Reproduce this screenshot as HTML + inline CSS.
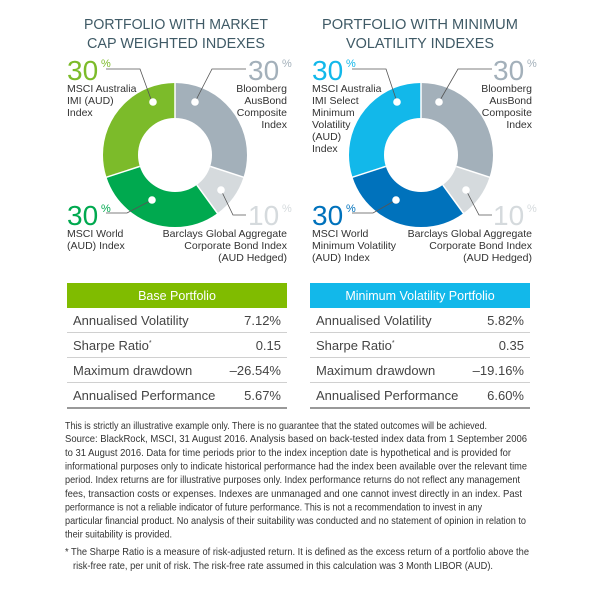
<!DOCTYPE html>
<html><head><meta charset="utf-8"><style>
html,body{margin:0;padding:0;background:#fff;}
body{width:600px;height:590px;position:relative;overflow:hidden;font-family:"Liberation Sans",sans-serif;}
svg{position:absolute;left:0;top:0;}
</style></head><body>
<svg width="600" height="590" viewBox="0 0 600 590" xmlns="http://www.w3.org/2000/svg" font-family="Liberation Sans, sans-serif">
<!-- titles -->
<g fill="#3f5a66" font-size="14.5" text-anchor="middle">
<text x="176" y="29" textLength="184" lengthAdjust="spacingAndGlyphs">PORTFOLIO WITH MARKET</text>
<text x="176" y="48" textLength="178" lengthAdjust="spacingAndGlyphs">CAP WEIGHTED INDEXES</text>
<text x="420" y="29" textLength="196" lengthAdjust="spacingAndGlyphs">PORTFOLIO WITH MINIMUM</text>
<text x="420" y="48" textLength="148" lengthAdjust="spacingAndGlyphs">VOLATILITY INDEXES</text>
</g>

<!-- left donut -->
<g transform="translate(175,155)">
<g transform="rotate(-90)" fill="none" stroke-width="35">
<circle r="54.5" stroke="#a3b0ba" stroke-dasharray="102.7 400" stroke-dashoffset="0"/>
<circle r="54.5" stroke="#d5dadd" stroke-dasharray="34.2 400" stroke-dashoffset="-102.7"/>
<circle r="54.5" stroke="#00a94f" stroke-dasharray="102.7 400" stroke-dashoffset="-136.9"/>
<circle r="54.5" stroke="#7cbb2a" stroke-dasharray="102.8 400" stroke-dashoffset="-239.6"/>
</g>
<g stroke="#fff" stroke-width="1.5">
<line x1="0" y1="-36" x2="0" y2="-73"/>
<line x1="35.2" y1="11.4" x2="70" y2="22.7"/>
<line x1="21.8" y1="29.9" x2="43" y2="59"/>
<line x1="-35.2" y1="11.4" x2="-70" y2="22.7"/>
</g>
</g>
<!-- right donut -->
<g transform="translate(421,155)">
<g transform="rotate(-90)" fill="none" stroke-width="35">
<circle r="54.5" stroke="#a3b0ba" stroke-dasharray="102.7 400" stroke-dashoffset="0"/>
<circle r="54.5" stroke="#d5dadd" stroke-dasharray="34.2 400" stroke-dashoffset="-102.7"/>
<circle r="54.5" stroke="#0072bc" stroke-dasharray="102.7 400" stroke-dashoffset="-136.9"/>
<circle r="54.5" stroke="#12b8ea" stroke-dasharray="102.8 400" stroke-dashoffset="-239.6"/>
</g>
<g stroke="#fff" stroke-width="1.5">
<line x1="0" y1="-36" x2="0" y2="-73"/>
<line x1="35.2" y1="11.4" x2="70" y2="22.7"/>
<line x1="21.8" y1="29.9" x2="43" y2="59"/>
<line x1="-35.2" y1="11.4" x2="-70" y2="22.7"/>
</g>
</g>

<!-- leader lines -->
<g stroke="#555" stroke-width="0.8" fill="none">
<polyline points="106,69 140,69 152,102"/>
<polyline points="246,69 212,69 195,102"/>
<polyline points="106,213 127,213 152,200"/>
<polyline points="246,215 233,215 221,190"/>
<polyline points="352,69 386,69 397,102"/>
<polyline points="492,69 458,69 439,102"/>
<polyline points="352,213 373,213 396,200"/>
<polyline points="492,215 479,215 466,190"/>
</g>
<g fill="#fff">
<circle cx="153" cy="102" r="3.8"/><circle cx="195" cy="102" r="3.8"/>
<circle cx="152" cy="200" r="3.8"/><circle cx="221" cy="190" r="3.8"/>
<circle cx="397" cy="102" r="3.8"/><circle cx="439" cy="102" r="3.8"/>
<circle cx="396" cy="200" r="3.8"/><circle cx="466" cy="190" r="3.8"/>
</g>

<!-- big numbers -->
<g font-size="28">
<text x="67" y="80" fill="#7cbb2a">30</text><text x="101" y="67" font-size="11" fill="#7cbb2a">%</text>
<text x="67" y="225" fill="#00a94f">30</text><text x="101" y="212" font-size="11" fill="#00a94f">%</text>
<text x="248" y="80" fill="#a3b0ba">30</text><text x="282" y="67" font-size="11" fill="#a3b0ba">%</text>
<text x="248" y="225" fill="#d5dadd">10</text><text x="282" y="212" font-size="11" fill="#d5dadd">%</text>
<text x="312" y="80" fill="#12b8ea">30</text><text x="346" y="67" font-size="11" fill="#12b8ea">%</text>
<text x="312" y="225" fill="#0072bc">30</text><text x="346" y="212" font-size="11" fill="#0072bc">%</text>
<text x="493" y="80" fill="#a3b0ba">30</text><text x="527" y="67" font-size="11" fill="#a3b0ba">%</text>
<text x="493" y="225" fill="#d5dadd">10</text><text x="527" y="212" font-size="11" fill="#d5dadd">%</text>
</g>

<!-- labels -->
<g font-size="10.5" fill="#333">
<text x="67" y="92">MSCI Australia</text><text x="67" y="104">IMI (AUD)</text><text x="67" y="116">Index</text>
<text x="67" y="237">MSCI World</text><text x="67" y="249">(AUD) Index</text>
<g text-anchor="end">
<text x="287" y="92">Bloomberg</text><text x="287" y="104">AusBond</text><text x="287" y="116">Composite</text><text x="287" y="128">Index</text>
<text x="287" y="237">Barclays Global Aggregate</text><text x="287" y="249">Corporate Bond Index</text><text x="287" y="261">(AUD Hedged)</text>
<text x="532" y="92">Bloomberg</text><text x="532" y="104">AusBond</text><text x="532" y="116">Composite</text><text x="532" y="128">Index</text>
<text x="532" y="237">Barclays Global Aggregate</text><text x="532" y="249">Corporate Bond Index</text><text x="532" y="261">(AUD Hedged)</text>
</g>
<text x="312" y="92">MSCI Australia</text><text x="312" y="104">IMI Select</text><text x="312" y="116">Minimum</text><text x="312" y="128">Volatility</text><text x="312" y="140">(AUD)</text><text x="312" y="152">Index</text>
<text x="312" y="237">MSCI World</text><text x="312" y="249">Minimum Volatility</text><text x="312" y="261">(AUD) Index</text>
</g>

<!-- tables -->
<rect x="67" y="283" width="220" height="25" fill="#80bc00"/>
<rect x="310" y="283" width="220" height="25" fill="#12b8ea"/>
<g font-size="12.5" fill="#fff" text-anchor="middle">
<text x="177" y="300">Base Portfolio</text>
<text x="420" y="300">Minimum Volatility Portfolio</text>
</g>
<g stroke="#d0d0d0" stroke-width="1">
<line x1="67" y1="332.5" x2="287" y2="332.5"/><line x1="67" y1="357.5" x2="287" y2="357.5"/><line x1="67" y1="382.5" x2="287" y2="382.5"/>
<line x1="310" y1="332.5" x2="530" y2="332.5"/><line x1="310" y1="357.5" x2="530" y2="357.5"/><line x1="310" y1="382.5" x2="530" y2="382.5"/>
</g>
<g stroke="#999" stroke-width="2">
<line x1="67" y1="408" x2="287" y2="408"/><line x1="310" y1="408" x2="530" y2="408"/>
</g>
<g font-size="13" fill="#444">
<text x="73" y="325">Annualised Volatility</text><text x="73" y="350">Sharpe Ratio<tspan font-size="7" dy="-5">*</tspan></text>
<text x="73" y="375">Maximum drawdown</text><text x="73" y="400">Annualised Performance</text>
<text x="316" y="325">Annualised Volatility</text><text x="316" y="350">Sharpe Ratio<tspan font-size="7" dy="-5">*</tspan></text>
<text x="316" y="375">Maximum drawdown</text><text x="316" y="400">Annualised Performance</text>
<g text-anchor="end">
<text x="281" y="325">7.12%</text><text x="281" y="350">0.15</text><text x="281" y="375">–26.54%</text><text x="281" y="400">5.67%</text>
<text x="524" y="325">5.82%</text><text x="524" y="350">0.35</text><text x="524" y="375">–19.16%</text><text x="524" y="400">6.60%</text>
</g>
</g>

<!-- footnotes -->
<g font-family="Liberation Sans Narrow, Liberation Sans, sans-serif" font-size="10.5" fill="#333" lengthAdjust="spacingAndGlyphs">
<text x="65" y="429" textLength="422" lengthAdjust="spacingAndGlyphs">This is strictly an illustrative example only. There is no guarantee that the stated outcomes will be achieved.</text>
<text x="65" y="442" textLength="462" lengthAdjust="spacingAndGlyphs">Source: BlackRock, MSCI, 31 August 2016. Analysis based on back-tested index data from 1 September 2006</text>
<text x="65" y="456" textLength="446" lengthAdjust="spacingAndGlyphs">to 31 August 2016. Data for time periods prior to the index inception date is hypothetical and is provided for</text>
<text x="65" y="469.5" textLength="462" lengthAdjust="spacingAndGlyphs">informational purposes only to indicate historical performance had the index been available over the relevant time</text>
<text x="65" y="483" textLength="455" lengthAdjust="spacingAndGlyphs">period. Index returns are for illustrative purposes only. Index performance returns do not reflect any management</text>
<text x="65" y="497" textLength="457" lengthAdjust="spacingAndGlyphs">fees, transaction costs or expenses. Indexes are unmanaged and one cannot invest directly in an index. Past</text>
<text x="65" y="510.5" textLength="417" lengthAdjust="spacingAndGlyphs">performance is not a reliable indicator of future performance. This is not a recommendation to invest in any</text>
<text x="65" y="524" textLength="461" lengthAdjust="spacingAndGlyphs">particular financial product. No analysis of their suitability was conducted and no statement of opinion in relation to</text>
<text x="65" y="537.5" textLength="107" lengthAdjust="spacingAndGlyphs">their suitability is provided.</text>
<text x="65" y="555" textLength="464" lengthAdjust="spacingAndGlyphs">* The Sharpe Ratio is a measure of risk-adjusted return. It is defined as the excess return of a portfolio above the</text>
<text x="73" y="569" textLength="420" lengthAdjust="spacingAndGlyphs">risk-free rate, per unit of risk. The risk-free rate assumed in this calculation was 3 Month LIBOR (AUD).</text>
</g>
</svg>
</body></html>
